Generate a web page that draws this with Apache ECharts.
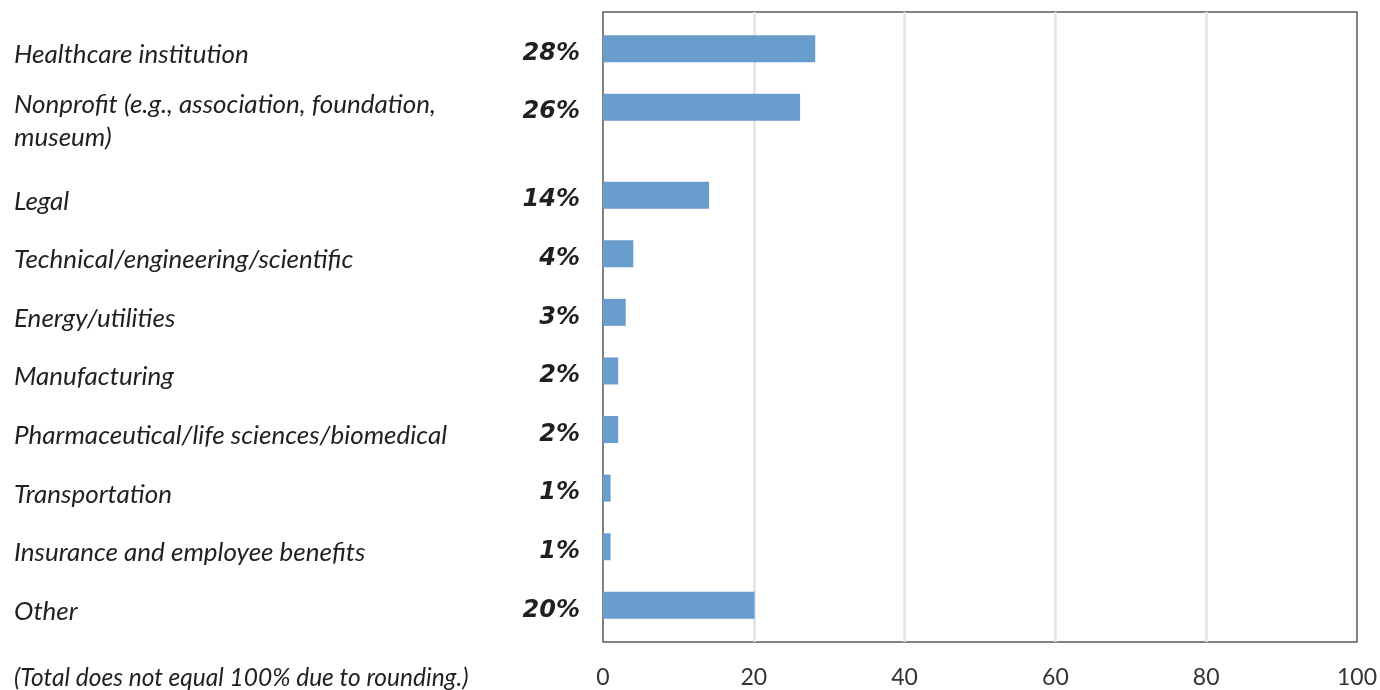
<!DOCTYPE html>
<html>
<head>
<meta charset="utf-8">
<script src="https://cdn.jsdelivr.net/npm/echarts@6/dist/echarts.min.js"></script>
<style>
  html, body { margin: 0; padding: 0; background: #fff; }
  #chart { width: 1380px; height: 690px; }
</style>
</head>
<body>
<div id="chart"></div>
<script>
// Sector breakdown (percent of respondents)
const categories = [
  'Healthcare institution',
  'Nonprofit (e.g., association, foundation,\nmuseum)',
  'Legal',
  'Technical/engineering/scientific',
  'Energy/utilities',
  'Manufacturing',
  'Pharmaceutical/life sciences/biomedical',
  'Transportation',
  'Insurance and employee benefits',
  'Other'
];
const values = [28, 26, 14, 4, 3, 2, 2, 1, 1, 20];
const xTicks = [0, 20, 40, 60, 80, 100];
const footnote = '(Total does not equal 100% due to rounding.)';

// Each row takes one label slot plus one spacer slot per text line,
// so a two-line label gets a taller row.
const SPACER = '__gap';
const slotNames = [];
const slotValues = [];
categories.forEach((name, i) => {
  slotNames.push(name);
  slotValues.push(values[i]);
  if (i < categories.length - 1) {
    const lines = name.split('\n').length;
    for (let k = 0; k < lines; k++) {
      slotNames.push(SPACER + i + '_' + k);
      slotValues.push('-');
    }
  }
});

const FONT = 'Lato';
const VALUE_FONT = '"DejaVu Sans"';
const TEXT = '#231f20';

const PLOT_LEFT = 603, PLOT_RIGHT = 19;
const ROWS_TOP = 34, ROWS_BOTTOM = 70;
const LABEL_DROP = 6; // category text sits slightly below its bar

const chart = echarts.init(document.getElementById('chart'));
chart.setOption({
  animation: false,
  title: {
    text: footnote,
    left: 14,
    top: 666,
    padding: 0,
    textStyle: { fontFamily: FONT, fontStyle: 'italic', fontWeight: 'normal', fontSize: 24.5, color: TEXT }
  },
  grid: [
    // framed plot area with vertical gridlines and the value scale
    { left: PLOT_LEFT, right: PLOT_RIGHT, top: 12, bottom: 48, show: true, borderColor: '#5a5a5a', borderWidth: 1.5 },
    // bar rows
    { left: PLOT_LEFT, right: PLOT_RIGHT, top: ROWS_TOP, bottom: ROWS_BOTTOM },
    // category names
    { left: PLOT_LEFT, right: PLOT_RIGHT, top: ROWS_TOP + LABEL_DROP, bottom: ROWS_BOTTOM - LABEL_DROP }
  ],
  xAxis: [
    {
      gridIndex: 0, type: 'value',
      min: xTicks[0], max: xTicks[xTicks.length - 1], interval: xTicks[1] - xTicks[0],
      axisLine: { show: false }, axisTick: { show: false },
      splitLine: { show: true, showMinLine: false, showMaxLine: false, lineStyle: { color: '#e3e3e3', width: 2.5 } },
      axisLabel: { fontFamily: FONT, fontSize: 23, color: '#333', margin: 24 }
    },
    { gridIndex: 1, type: 'value', min: xTicks[0], max: xTicks[xTicks.length - 1], show: false },
    { gridIndex: 2, type: 'value', min: xTicks[0], max: xTicks[xTicks.length - 1], show: false }
  ],
  yAxis: [
    { gridIndex: 0, type: 'value', show: false },
    { gridIndex: 1, type: 'category', inverse: true, data: slotNames, show: false },
    {
      gridIndex: 2, type: 'category', inverse: true, data: slotNames,
      axisLine: { show: false }, axisTick: { show: false }, splitLine: { show: false },
      axisLabel: {
        interval: 0,
        align: 'left',
        margin: PLOT_LEFT - 14,
        formatter: (v) => {
          if (v.indexOf(SPACER) === 0) return '';
          const lines = v.split('\n').map(l => '{a|' + l + '}');
          // a short lead line keeps a wrapped label's first line near its bar
          return lines.length > 1 ? '{s| }\n' + lines.join('\n') : lines[0];
        },
        rich: {
          a: { fontFamily: FONT, fontStyle: 'italic', fontSize: 26, lineHeight: 33, color: TEXT },
          s: { fontSize: 10, lineHeight: 15 }
        }
      }
    }
  ],
  series: [{
    type: 'bar',
    xAxisIndex: 1, yAxisIndex: 1,
    data: slotValues,
    barWidth: 27,
    itemStyle: { color: '#689dcd' },
    label: {
      show: true, position: 'left', distance: 23,
      offset: [0, 5],
      formatter: '{c}%',
      fontFamily: VALUE_FONT, fontStyle: 'italic', fontWeight: 'bold', fontSize: 24, color: TEXT
    }
  }]
});
</script>
</body>
</html>
